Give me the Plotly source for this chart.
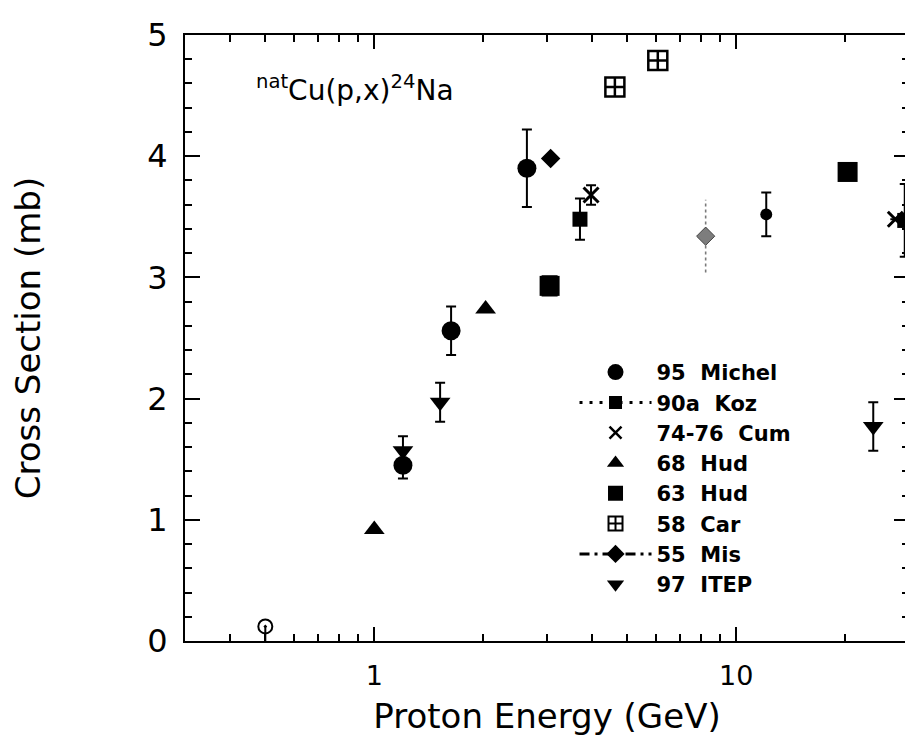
import numpy as np
import plotly.graph_objects as go

# ---------------- data ----------------
# 95 Michel
michel_E = [1.2, 1.63, 2.64]
michel_xs = [1.45, 2.56, 3.90]
michel_err = [0.11, 0.20, 0.32]

# 90a Koz
koz_E = [3.7, 29.2]
koz_xs = [3.48, 3.47]
koz_err = [0.17, 0.30]

# 74-76 Cum
cum_E = [3.97, 27.5]
cum_xs = [3.68, 3.48]
cum_err = [0.08, 0.0]

# 68 Hud
hud68_E = [1.0, 2.03]
hud68_xs = [0.92, 2.74]

# 63 Hud
hud63_E = [3.05, 20.3]
hud63_xs = [2.93, 3.87]
hud63_err = [0.08, 0.0]

# 58 Car
car_E = [4.62, 6.07]
car_xs = [4.57, 4.79]

# 55 Mis
mis_E = [3.07]
mis_xs = [3.98]

# 97 ITEP
itep_E = [1.2, 1.52, 23.9]
itep_xs = [1.57, 1.97, 1.77]
itep_err = [0.12, 0.16, 0.20]

# unlabelled points
small_E = [12.1]
small_xs = [3.52]
small_err = [0.18]

grey_E = [8.23]
grey_xs = [3.34]
grey_err = [0.30]

low_E = [0.5]
low_xs = [0.12]

# axes
x_range = [0.3, 30]
x_major = [1, 10]
x_major_text = ["1", "10"]
x_minor = [0.4, 0.5, 0.6, 0.7, 0.8, 0.9, 2, 3, 4, 5, 6, 7, 8, 9, 20]
y_range = [0, 5]

legend_names = ["95\u00a0\u00a0Michel", "90a\u00a0\u00a0Koz", "74-76\u00a0\u00a0Cum",
                "68\u00a0\u00a0Hud", "63\u00a0\u00a0Hud", "58\u00a0\u00a0Car",
                "55\u00a0\u00a0Mis", "97\u00a0\u00a0ITEP"]

BLACK = "black"
EB = dict(type="data", thickness=2, width=5, color=BLACK, visible=True)

fig = go.Figure()

# ---------------- data traces ----------------
fig.add_trace(go.Scatter(x=low_E, y=low_xs, mode="markers", showlegend=False,
                         marker=dict(symbol="circle-open-dot", size=14, color=BLACK,
                                     line=dict(width=2, color=BLACK)),
                         error_y=dict(type="data", symmetric=False, array=[0],
                                      arrayminus=low_xs, thickness=2, width=0, color=BLACK)))

fig.add_trace(go.Scatter(x=[grey_E[0], grey_E[0]],
                         y=[grey_xs[0] - grey_err[0], grey_xs[0] + grey_err[0]],
                         mode="lines", showlegend=False,
                         line=dict(color="#7a7a7a", width=1.6, dash="dot")))
fig.add_trace(go.Scatter(x=grey_E, y=grey_xs, mode="markers", showlegend=False,
                         marker=dict(symbol="diamond", size=14, color="#7d7d7d",
                                     line=dict(width=1, color="#444444"))))

fig.add_trace(go.Scatter(x=small_E, y=small_xs, mode="markers", showlegend=False,
                         marker=dict(symbol="circle", size=12, color=BLACK),
                         error_y=dict(EB, array=small_err)))

fig.add_trace(go.Scatter(x=hud68_E, y=hud68_xs, mode="markers", showlegend=False,
                         marker=dict(symbol="triangle-up", size=18, color=BLACK)))

fig.add_trace(go.Scatter(x=hud63_E, y=hud63_xs, mode="markers", showlegend=False,
                         marker=dict(symbol="square", size=20, color=BLACK),
                         error_y=dict(EB, array=hud63_err, width=8)))

fig.add_trace(go.Scatter(x=car_E, y=car_xs, mode="markers", showlegend=False,
                         marker=dict(symbol="square-cross-open", size=19, color=BLACK,
                                     line=dict(width=2.5, color=BLACK))))

fig.add_trace(go.Scatter(x=mis_E, y=mis_xs, mode="markers", showlegend=False,
                         marker=dict(symbol="diamond", size=15, color=BLACK)))

fig.add_trace(go.Scatter(x=koz_E, y=koz_xs, mode="markers", showlegend=False,
                         marker=dict(symbol="square", size=15, color=BLACK),
                         error_y=dict(EB, array=koz_err)))

fig.add_trace(go.Scatter(x=cum_E, y=cum_xs, mode="markers", showlegend=False,
                         marker=dict(symbol="x-thin-open", size=15, color=BLACK,
                                     line=dict(width=3, color=BLACK)),
                         error_y=dict(EB, array=cum_err)))

fig.add_trace(go.Scatter(x=itep_E, y=itep_xs, mode="markers", showlegend=False,
                         marker=dict(symbol="triangle-down", size=18, color=BLACK),
                         error_y=dict(EB, array=itep_err)))

fig.add_trace(go.Scatter(x=michel_E, y=michel_xs, mode="markers", showlegend=False,
                         marker=dict(symbol="circle", size=19, color=BLACK),
                         error_y=dict(EB, array=michel_err)))

# ---------------- legend entries ----------------
leg_styles = [
    dict(mode="markers", marker=dict(symbol="circle", size=16, color=BLACK)),
    dict(mode="lines+markers", marker=dict(symbol="square", size=13, color=BLACK),
         line=dict(color=BLACK, width=3, dash="3px,7px")),
    dict(mode="markers", marker=dict(symbol="x-thin-open", size=12, color=BLACK,
                                     line=dict(width=2.5, color=BLACK))),
    dict(mode="markers", marker=dict(symbol="triangle-up", size=15, color=BLACK)),
    dict(mode="markers", marker=dict(symbol="square", size=15, color=BLACK)),
    dict(mode="markers", marker=dict(symbol="square-cross-open", size=14, color=BLACK,
                                     line=dict(width=2, color=BLACK))),
    dict(mode="lines+markers", marker=dict(symbol="diamond", size=14, color=BLACK),
         line=dict(color=BLACK, width=3, dash="10px,5px,3px,5px")),
    dict(mode="markers", marker=dict(symbol="triangle-down", size=15, color=BLACK)),
]
for name, st in zip(legend_names, leg_styles):
    fig.add_trace(go.Scatter(x=[None], y=[None], name=name, showlegend=True, **st))

# ---------------- layout ----------------
axis_common = dict(showline=True, linewidth=2, linecolor=BLACK, mirror="ticks",
                   ticks="inside", tickwidth=2, tickcolor=BLACK,
                   showgrid=False, zeroline=False)

# the page body keeps an 8px margin, so the figure is 8px smaller than the window
fig.update_layout(
    width=905, height=743,
    margin=dict(l=177, r=2, t=27, b=110),
    paper_bgcolor="white", plot_bgcolor="white",
    font=dict(family="DejaVu Sans", color=BLACK),
    showlegend=True,
    legend=dict(x=0.538, y=0.477, xanchor="left", yanchor="top",
                font=dict(size=21, family="DejaVu Sans", weight="bold", color=BLACK),
                itemwidth=72, bgcolor="rgba(0,0,0,0)", tracegroupgap=0,
                itemsizing="trace"),
    xaxis=dict(axis_common, type="log",
               range=[np.log10(x_range[0]), np.log10(x_range[1])],
               tickmode="array", tickvals=x_major, ticktext=x_major_text,
               ticklen=14, tickfont=dict(size=27), ticklabelstandoff=10,
               minor=dict(tickmode="array", tickvals=x_minor, ticks="inside",
                          ticklen=7, tickwidth=2, tickcolor=BLACK, showgrid=False),
               title=dict(text="Proton Energy (GeV)", font=dict(size=34), standoff=14)),
    yaxis=dict(axis_common, range=y_range, tickmode="linear", tick0=0, dtick=1,
               ticklen=15, tickfont=dict(size=32), ticklabelstandoff=9,
               minor=dict(tickmode="linear", dtick=0.2, ticks="inside", ticklen=7,
                          tickwidth=2, tickcolor=BLACK, showgrid=False),
               title=dict(text="Cross Section (mb)", font=dict(size=34), standoff=96)),
    annotations=[dict(text="<sup>nat</sup>Cu(p,x)<sup>24</sup>Na",
                      xref="paper", yref="paper", x=(254 - 185) / 726, y=(641 - 88) / 606,
                      xanchor="left", yanchor="middle", showarrow=False,
                      font=dict(size=28, color=BLACK))],
)

fig.write_html("out.html")
